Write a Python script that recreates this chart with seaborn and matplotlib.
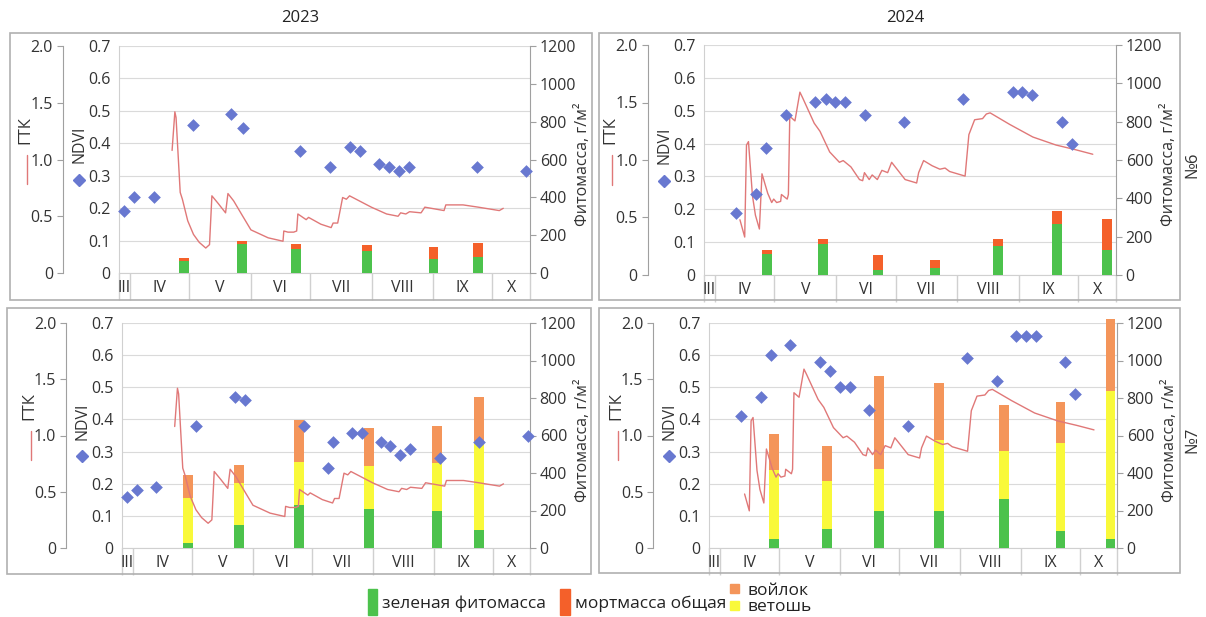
import numpy as np
import matplotlib
matplotlib.use("Agg")
import matplotlib.pyplot as plt
import seaborn as sns
from matplotlib.patches import Rectangle, Patch
from matplotlib.lines import Line2D

sns.set_style("white")
plt.rcParams["font.family"] = ["Open Sans", "DejaVu Sans"]

W, H = 1206, 617

# ── Month band (day of year) ──────────────────────────────────
MONTH_EDGES = [85.5, 91, 121, 152, 182, 213, 244, 274, 293]
MONTH_LABELS = ["III", "IV", "V", "VI", "VII", "VIII", "IX", "X"]

# ── ГТК (hydrothermal coefficient), same weather for both sites ──
gtk_2023_day = [112.3, 113.7, 114.3, 116.4, 117.5, 120.2, 123.1, 126.0, 129.3, 131.2,
                132.4, 135.7, 139.3, 140.5, 143.4, 147.3, 152.1, 160.8, 168.3, 168.7,
                170.8, 173.7, 175.2, 175.8, 180.0, 181.2, 187.4, 192.6, 193.6, 195.9,
                198.4, 200.3, 201.9, 205.2, 212.9, 220.6, 226.4, 227.7, 230.3, 232.2,
                238.0, 239.9, 249.6, 250.5, 259.2, 266.9, 277.5, 279.5]
gtk_2023_val = [1.08, 1.42, 1.37, 0.71, 0.65, 0.46, 0.34, 0.27, 0.22, 0.25,
                0.68, 0.61, 0.53, 0.70, 0.635, 0.52, 0.38, 0.31, 0.28, 0.37,
                0.36, 0.36, 0.37, 0.52, 0.47, 0.49, 0.43, 0.40, 0.44, 0.44,
                0.665, 0.65, 0.68, 0.65, 0.58, 0.52, 0.50, 0.53, 0.52, 0.54,
                0.53, 0.58, 0.55, 0.60, 0.60, 0.58, 0.55, 0.57]

gtk_2024_day = [103.6, 106.0, 106.9, 107.9, 109.9, 111.4, 113.4, 114.7, 117.6, 119.6,
                120.6, 122.1, 124.1, 124.5, 127.4, 128.0, 128.7, 131.3, 133.8, 135.2,
                141.0, 143.9, 148.8, 153.7, 155.6, 159.5, 163.8, 165.4, 166.3, 168.7,
                170.2, 172.8, 175.1, 178.0, 180.0, 186.8, 192.6, 193.6, 196.1, 200.4,
                204.3, 206.9, 209.2, 217.0, 218.9, 221.8, 225.8, 227.7, 229.6, 239.4,
                251.1, 262.8, 272.5, 281.3]
gtk_2024_val = [0.48, 0.33, 1.13, 1.16, 0.69, 0.52, 0.40, 0.88, 0.71, 0.63,
                0.66, 0.63, 0.64, 0.70, 0.66, 0.70, 1.38, 1.34, 1.59, 1.54,
                1.32, 1.25, 1.07, 0.98, 0.995, 0.94, 0.83, 0.82, 0.89, 0.83,
                0.87, 0.83, 0.91, 0.89, 0.98, 0.83, 0.80, 0.89, 0.995, 0.95,
                0.92, 0.93, 0.90, 0.86, 1.22, 1.35, 1.36, 1.40, 1.41, 1.31,
                1.20, 1.13, 1.09, 1.05]

# ── NDVI ──────────────────────────────────────────────────────
ndvi_2023_6_day = [88, 93, 103, 123, 142, 148, 177, 192, 202, 207, 217, 222, 227, 232, 266, 291]
ndvi_2023_6 = [0.19, 0.235, 0.235, 0.457, 0.489, 0.447, 0.377, 0.326, 0.388, 0.377,
               0.336, 0.326, 0.316, 0.326, 0.326, 0.316]

ndvi_2024_6_day = [101.7, 111.8, 116.7, 126.6, 141.6, 146.7, 151.5, 156.4, 166.5, 186.4,
                   216, 241, 245.8, 250.9, 265.7, 270.8]
ndvi_2024_6 = [0.188, 0.248, 0.388, 0.487, 0.527, 0.537, 0.527, 0.527, 0.487, 0.467,
               0.537, 0.556, 0.556, 0.547, 0.467, 0.398]

ndvi_2023_7_day = [88, 93, 103, 123, 143, 148, 178, 190.5, 192.6, 202.5, 207.4, 217,
                   222, 227, 232, 247, 267, 292]
ndvi_2023_7 = [0.158, 0.179, 0.189, 0.379, 0.469, 0.459, 0.379, 0.249, 0.329, 0.359,
               0.359, 0.329, 0.318, 0.288, 0.309, 0.279, 0.329, 0.348]

ndvi_2024_7_day = [102, 112.1, 117, 126.8, 141.8, 146.9, 151.9, 157, 167, 186.9,
                   216.8, 231.8, 241.8, 246.8, 251.7, 266.8, 271.8]
ndvi_2024_7 = [0.411, 0.469, 0.600, 0.630, 0.580, 0.550, 0.500, 0.500, 0.430, 0.379,
               0.590, 0.520, 0.660, 0.660, 0.660, 0.580, 0.480]

# ── Phytomass, g/m2 ───────────────────────────────────────────
bar_2023_6_day = [118.5, 147.5, 174.9, 210.6, 244.3, 266.9]
green_2023_6 = [65, 154, 128, 114, 72, 86]
mort_2023_6 = [12, 15, 24, 33, 68, 73]

bar_2024_6_day = [117.1, 145.5, 173.0, 201.8, 233.4, 263.2, 288.5]
green_2024_6 = [108, 163, 24, 38, 150, 264, 132]
mort_2024_6 = [24, 23, 79, 39, 38, 68, 158]

bar_2023_7_day = [119.2, 145.1, 175.5, 211.3, 245.8, 267.2]
green_2023_7 = [28, 122, 229, 206, 199, 97]
vetosh_2023_7 = [237, 227, 232, 232, 256, 473]
voilok_2023_7 = [122, 92, 220, 201, 198, 233]

bar_2024_7_day = [118.4, 145.7, 172.1, 202.3, 235.7, 264.3, 289.7]
green_2024_7 = [49, 99, 199, 199, 264, 92, 46]
vetosh_2024_7 = [365, 257, 222, 375, 252, 468, 793]
voilok_2024_7 = [196, 187, 495, 307, 247, 221, 382]

GREEN = "#4CC24C"
MORT = "#F4602A"
VOILOK = "#F4955A"
VETOSH = "#F9F93A"
NDVI_COLOR = "#6878D0"
GTK_COLOR = "#E07878"
TEXT = "#333333"
SPINE = "#A0A0A0"
LIGHT = "#D0D0D0"
FS = 11.5

fig = plt.figure(figsize=(W / 100, H / 100), dpi=100)


def frame(x0, y0, x1, y1):
    fig.add_artist(Rectangle((x0 / W, 1 - y1 / H), (x1 - x0) / W, (y1 - y0) / H,
                             transform=fig.transFigure, fill=False,
                             edgecolor="#B0B0B0", lw=1.2))


def draw_panel(px, gtk_day, gtk_val, ndvi_day, ndvi_val, bar_day, segments, site=None):
    x0, y0, x1, y1 = px
    ax = fig.add_axes([x0 / W, 1 - y1 / H, (x1 - x0) / W, (y1 - y0) / H])

    # NDVI axis + grid + month band
    ax.set_ylim(0, 0.7)
    ax.set_yticks(np.arange(0, 0.71, 0.1))
    ax.set_yticklabels(["0"] + [f"{v:.1f}" for v in np.arange(0.1, 0.71, 0.1)])
    ax.tick_params(axis="y", length=0, pad=6, labelsize=FS, labelcolor=TEXT)
    ax.grid(axis="y", color="#DADADA", lw=0.8)
    ax.set_axisbelow(True)
    for s in ["top", "right"]:
        ax.spines[s].set_visible(False)
    ax.spines["left"].set_color(LIGHT)
    ax.spines["bottom"].set_color(LIGHT)

    centers = [(a + b) / 2 for a, b in zip(MONTH_EDGES[:-1], MONTH_EDGES[1:])]
    ax.set_xticks(MONTH_EDGES)
    ax.set_xticklabels([])
    ax.set_xticks(centers, minor=True)
    ax.set_xticklabels(MONTH_LABELS, minor=True)
    ax.tick_params(axis="x", which="major", bottom=True, length=19.5, color=LIGHT, width=1)
    ax.tick_params(axis="x", which="minor", bottom=True, length=0, pad=5,
                   labelsize=FS, labelcolor=TEXT)

    # Phytomass bars (right axis)
    ax_m = ax.twinx()
    bottom = np.zeros(len(bar_day))
    for vals, color in segments:
        ax_m.bar(bar_day, vals, width=5, bottom=bottom, color=color, lw=0, clip_on=False)
        bottom = bottom + np.array(vals)
    ax_m.set_ylim(0, 1200)
    ax_m.set_yticks(range(0, 1201, 200))
    ax_m.tick_params(axis="y", right=True, length=4, color=SPINE, pad=3,
                     labelsize=FS, labelcolor=TEXT)
    for s in ["top", "left", "bottom"]:
        ax_m.spines[s].set_visible(False)
    ax_m.spines["right"].set_color(SPINE)
    ax_m.set_ylabel("Фитомасса, г/м²", fontsize=FS, color=TEXT)
    ax_m.yaxis.set_label_coords(1.11, 0.48)

    # ГТК line (extra left axis)
    ax_g = ax.twinx()
    sns.lineplot(x=gtk_day, y=gtk_val, ax=ax_g, color=GTK_COLOR, lw=1.0,
                 estimator=None, sort=False, legend=False)
    ax_g.set_ylim(0, 2)
    ax_g.yaxis.tick_left()
    ax_g.set_yticks([0, 0.5, 1.0, 1.5, 2.0])
    ax_g.set_yticklabels(["0", "0.5", "1.0", "1.5", "2.0"])
    ax_g.tick_params(axis="y", left=True, right=False, labelleft=True, labelright=False,
                     length=4, color=SPINE, pad=3, labelsize=FS, labelcolor=TEXT)
    for s in ["top", "right", "bottom"]:
        ax_g.spines[s].set_visible(False)
    ax_g.spines["left"].set_visible(True)
    ax_g.spines["left"].set_position(("axes", -0.137))
    ax_g.spines["left"].set_color(SPINE)
    ax_g.set_ylabel("")
    ax_g.set_xlabel("")

    # NDVI points on top
    ax_n = ax.twinx()
    sns.scatterplot(x=ndvi_day, y=ndvi_val, ax=ax_n, marker="D", s=42,
                    color=NDVI_COLOR, linewidth=0, legend=False, clip_on=False, zorder=5)
    ax_n.set_ylim(0, 0.7)
    ax_n.axis("off")

    ax.set_xlim(MONTH_EDGES[0], MONTH_EDGES[-1])

    # axis titles with legend keys
    ax.text(-0.228, 0.63, "ГТК", rotation=90, transform=ax.transAxes,
            ha="center", va="center", fontsize=FS + 0.5, color=TEXT)
    ax.add_line(Line2D([-0.224, -0.224], [0.39, 0.52], transform=ax.transAxes,
                       color=GTK_COLOR, lw=1.0, clip_on=False))
    ax.text(-0.097, 0.565, "NDVI", rotation=90, transform=ax.transAxes,
            ha="center", va="center", fontsize=FS, color=TEXT)
    ax.plot([-0.097], [0.41], marker="D", ms=6, color=NDVI_COLOR,
            transform=ax.transAxes, clip_on=False)
    if site:
        ax.text(1.185, 0.48, site, rotation=90, transform=ax.transAxes,
                ha="center", va="center", fontsize=12, color=TEXT)


frame(10, 33, 592, 300)
frame(599, 33, 1180, 300)
frame(7, 308, 591, 574)
frame(599, 308, 1180, 573)

draw_panel((119, 46, 530, 273), gtk_2023_day, gtk_2023_val, ndvi_2023_6_day, ndvi_2023_6,
           bar_2023_6_day, [(green_2023_6, GREEN), (mort_2023_6, MORT)])
draw_panel((704, 45, 1116, 275), gtk_2024_day, gtk_2024_val, ndvi_2024_6_day, ndvi_2024_6,
           bar_2024_6_day, [(green_2024_6, GREEN), (mort_2024_6, MORT)], site="№6")
draw_panel((122, 323, 530, 548), gtk_2023_day, gtk_2023_val, ndvi_2023_7_day, ndvi_2023_7,
           bar_2023_7_day, [(green_2023_7, GREEN), (vetosh_2023_7, VETOSH), (voilok_2023_7, VOILOK)])
draw_panel((709, 323, 1117, 548), gtk_2024_day, gtk_2024_val, ndvi_2024_7_day, ndvi_2024_7,
           bar_2024_7_day, [(green_2024_7, GREEN), (vetosh_2024_7, VETOSH), (voilok_2024_7, VOILOK)],
           site="№7")

fig.text(300 / W, 1 - 18 / H, "2023", ha="center", va="center", fontsize=12, color="#222222")
fig.text(905 / W, 1 - 18 / H, "2024", ha="center", va="center", fontsize=12, color="#222222")

# ── Bottom legend ─────────────────────────────────────────────
fig.legend([Patch(color=GREEN), Patch(color=MORT)],
           ["зеленая фитомасса", "мортмасса общая"],
           loc="center", bbox_to_anchor=(547 / W, 1 - 602 / H), ncol=2, frameon=False,
           fontsize=12.5, handlelength=0.55, handleheight=2.0, handletextpad=0.3,
           columnspacing=0.8, borderpad=0, labelcolor="#222222")
fig.legend([Patch(color=VOILOK), Patch(color=VETOSH)], ["войлок", "ветошь"],
           loc="center", bbox_to_anchor=(771 / W, 1 - 599 / H), ncol=1, frameon=False,
           fontsize=12.5, handlelength=0.5, handleheight=0.42, handletextpad=0.5,
           labelspacing=0.05, borderpad=0, labelcolor="#222222")

fig.savefig("out.png", dpi=100)
